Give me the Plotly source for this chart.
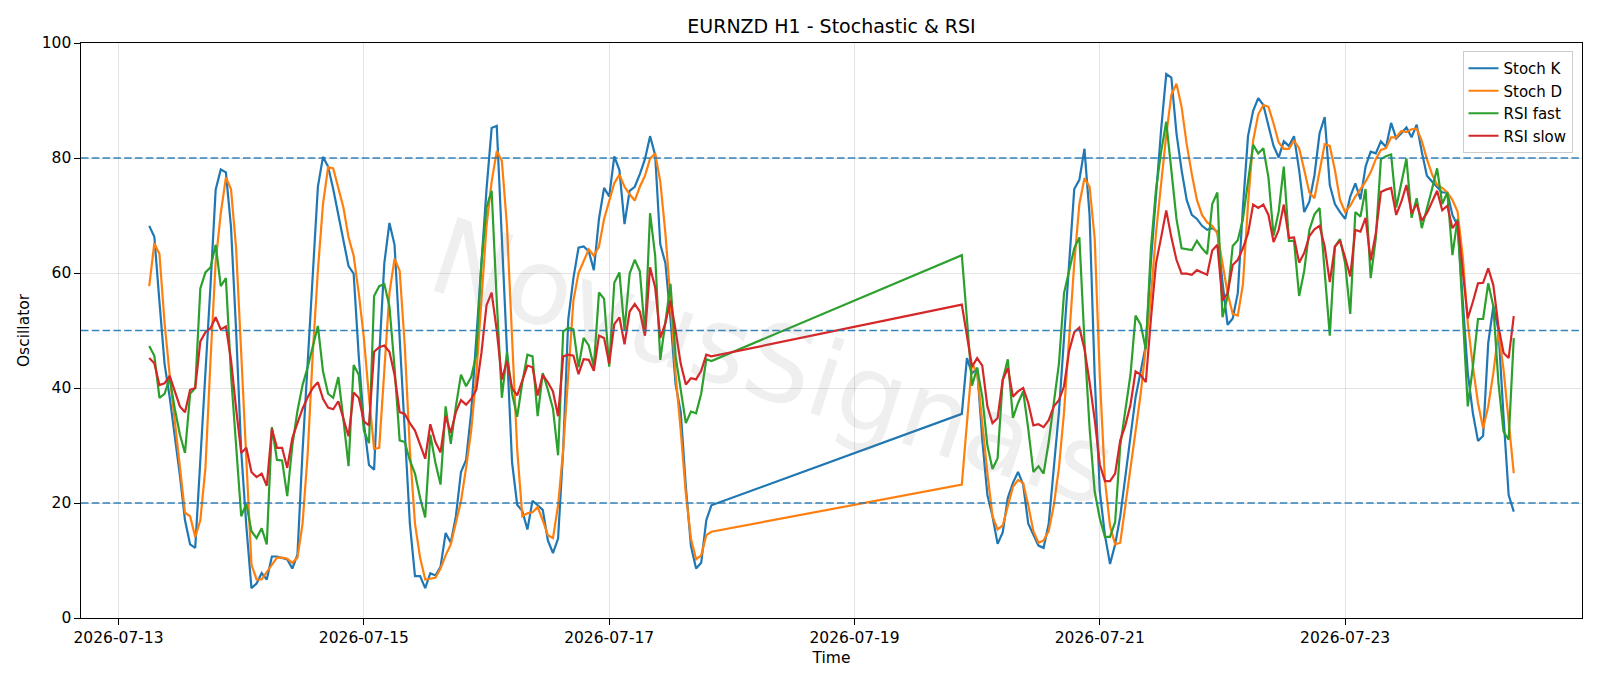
import pandas as pd
import plotly.graph_objects as go

# ---------------- data (hourly, weekend gap between segments) ----------------
seg1_start = "2026-07-13 06:00"
seg2_start = "2026-07-19 21:00"

stoch_k_1 = [68.2, 66.3, 55, 44.2, 38.4, 31.9, 24.8, 17, 12.8, 12.2,
             27, 43, 58, 74.5, 78, 77.5, 68, 50, 29, 16,
             5.2, 6, 7.8, 6.7, 10.7, 10.7, 10.4, 10.2, 8.6, 11,
             29, 44, 59, 75, 80.2, 78.5, 74.6, 70.1, 66.2, 61.2,
             59.9, 45.5, 33.9, 26.6, 25.8, 45.5, 61.7, 68.7, 64.9, 48.7,
             32.6, 16.4, 7.3, 7.3, 5.2, 7.8, 7.4, 8.9, 14.8, 13.1,
             17.7, 25.4, 27.5, 35.8, 48.7, 61.7, 74.6, 85.2, 85.6, 66,
             45, 27, 19.7, 18.6, 15.4, 20.4, 19.6, 18.8, 13.5, 11.3,
             13.8, 29.3, 52, 59.1, 64.4, 64.6, 63.8, 60.5, 69.4, 74.8,
             73.3, 80.3, 77.9, 68.5, 74.3, 75, 77.2, 79.8, 83.8, 80.5,
             65, 61.7, 52, 40.6, 35.8, 22.8, 12.5, 8.6, 9.6, 17,
             19.6]
stoch_d_1 = [57.7, 65.2, 63.3, 51.3, 42.3, 33.9, 26.1, 18.3, 17.7, 14.1,
             17, 26.1, 45, 62, 70.4, 76.6, 74.6, 64.3, 46, 27,
             9.3, 6.7, 6.7, 8, 9.3, 10.5, 10.5, 10.3, 9.6, 10.5,
             16.4, 28.5, 46, 60.4, 72, 78.4, 78.2, 75, 71.4, 66.2,
             63, 56.5, 48.7, 38.4, 29.4, 29.6, 42.3, 56.5, 62.5, 60.4,
             47.4, 29.3, 16.4, 10.5, 6.7, 6.8, 7, 8.6, 10.9, 12.8,
             16.4, 20.3, 26.1, 32.6, 42.3, 55.2, 68.2, 75.9, 81.2, 79.5,
             68.2, 48.7, 29.3, 17.7, 18.2, 18.4, 19.3, 17, 14.4, 13.9,
             19.6, 29.3, 42.3, 55.2, 60, 62, 64.1, 63, 64.6, 69.4,
             72.7, 75.6, 77.1, 75, 73.7, 72.6, 75, 76.9, 79.9, 80.8,
             75.9, 66.9, 55.2, 42.3, 32.6, 21.6, 13.8, 10.2, 10.9, 14.4,
             15]
rsi_fast_1 = [47.3, 45.6, 38.3, 39, 41.7, 36.4, 31.9, 28.7, 39, 40,
              57.3, 60.1, 61, 64.9, 57.7, 59.1, 42.3, 29.3, 17.7, 19.9,
              15.1, 13.9, 15.6, 12.8, 33.2, 27.5, 27.4, 21.2, 30, 36,
              40.5, 43.6, 47.4, 50.8, 42.9, 39, 38.3, 41.9, 34.5, 26.4,
              44, 42.3, 32.6, 30.4, 56, 57.7, 58.1, 54.2, 43.6, 30.9,
              30.6, 27.4, 25.1, 20.9, 17.5, 31.9, 27, 23.2, 36.8, 30.3,
              36.8, 42.3, 40.3, 41.9, 45.8, 61.7, 71.4, 74.3, 55.2, 38.3,
              46.3, 39, 35, 41, 45.8, 45.5, 35.1, 42.6, 39.7, 36.4,
              28.3, 49.8, 50.5, 50.2, 43.6, 48.7, 47.4, 43.7, 56.6, 55.5,
              43.7, 58.3, 60.1, 50, 59.9, 62.3, 60.3, 49.4, 70.4, 63,
              44.9, 51.3, 58.1, 45.5, 40, 33.9, 35.9, 35.6, 39, 45,
              44.7]
rsi_slow_1 = [45.2, 44.3, 40.5, 40.8, 42.1, 39.4, 36.8, 35.8, 39.7, 40,
              48.1, 49.7, 50.4, 52.3, 50.2, 50.7, 44.9, 36.4, 28.7, 29.6,
              25.4, 24.5, 25.1, 23, 32.9, 29.6, 29.6, 26.1, 31.3, 33.9,
              36.4, 38.4, 40, 41, 38.1, 36.6, 36.3, 37.7, 34.5, 31.6,
              39.2, 38.3, 34.2, 33.5, 46.3, 47.1, 47.4, 46.3, 42.3, 35.8,
              35.5, 33.9, 32.6, 30, 27.7, 33.7, 30.6, 28.8, 35.1, 32.2,
              35.8, 37.9, 37.1, 38.1, 39.7, 46.1, 54.4, 56.6, 50, 41.5,
              44.7, 40, 38.7, 41.3, 43.9, 43.6, 38.7, 42.3, 41, 39.4,
              35.1, 45.5, 45.8, 45.6, 42.4, 45, 44.9, 43, 49.1, 48.7,
              44.2, 51.1, 52.3, 47.6, 53.3, 54.6, 53.3, 49.1, 61, 57.5,
              48.7, 51.3, 55.2, 50, 44.2, 40.6, 41.7, 41.5, 43, 45.8,
              45.5]

stoch_k_2 = [35.5, 45.2, 42.5, 43.5, 31, 21.4, 17.7, 12.9, 14.9, 20.9,
             23.5, 25.4, 23.2, 16.4, 14.4, 12.6, 12.2, 16.4, 26.1, 35.8,
             48.7, 61.7, 74.6, 76.2, 81.6, 70, 42, 22, 14.4, 9.4,
             12.8, 17.7, 24.8, 31.9, 38.4, 42.9, 47.4, 62, 74, 85,
             94.6, 94, 84.3, 77.9, 72.7, 70.1, 69.4, 68.2, 67.5, 67.8,
             67.2, 58.4, 51, 52.1, 56.5, 71.4, 83.8, 88.2, 90.4, 89.2,
             85.6, 82.1, 80.1, 82.9, 82.1, 83.8, 77.9, 70.6, 72.4, 77,
             84.3, 87.1, 75.3, 72, 70.6, 69.4, 73.3, 75.6, 72.8, 78.5,
             81.1, 80.8, 82.9, 81.9, 86.1, 83.4, 84.3, 85.3, 83.6, 85.8,
             81.1, 76.9, 75.9, 75, 74, 74, 70.1, 68.2, 55, 42.6,
             35.6, 30.8, 31.7, 47.8, 54.2, 50.1, 35, 21.4, 18.5]
stoch_d_2 = [23.2, 33.9, 44.3, 42.6, 33.3, 25.2, 17.7, 15.4, 16.1, 19.4,
             22.8, 24, 23.5, 19.6, 15.1, 13.1, 13.5, 15.1, 19.6, 26.1,
             35.8, 48.7, 61.7, 72, 76.5, 75, 66, 42, 24, 16,
             12.8, 13.1, 19.6, 26.1, 32.6, 39, 47, 56, 67, 76,
             84, 91, 92.9, 88.9, 82.4, 77.2, 72.7, 70.1, 68.8, 68.2,
             66.9, 61.7, 56.5, 52.9, 52.6, 58, 72, 83, 87.6, 89.2,
             88.9, 86, 82.7, 81.6, 81.6, 83, 81.7, 77.9, 74, 73,
             77.9, 82.4, 82.1, 77.9, 72.7, 70.6, 71.7, 73.3, 74.6, 75.9,
             77.5, 79.8, 81.4, 81.7, 83.6, 83.6, 84.7, 84.5, 85, 85.1,
             83, 79.8, 77.2, 75.3, 74.8, 74, 72.7, 70.7, 63, 51.3,
             43.7, 37.4, 33, 36.8, 42.6, 49.8, 43.2, 34.5, 25.2]
rsi_fast_2 = [63.1, 52, 40.4, 43.5, 38.5, 30, 25.9, 27.8, 41.4, 45,
              34.8, 37.4, 39.4, 32.9, 25.4, 26.4, 25.1, 30.6, 37.1, 44.2,
              56.5, 60.4, 64.3, 66.2, 48, 33, 22, 17.3, 14.1, 14.1,
              16.7, 30, 35.8, 42.3, 52.6, 51, 46.8, 64.3, 74.6, 81.1,
              86.3, 77.9, 69.4, 64.3, 64.2, 64, 65.6, 64.3, 63.3, 72,
              74, 52.3, 55.9, 64.7, 65.7, 69.4, 75.9, 82.3, 80.8, 81.7,
              76.6, 66.5, 70.7, 78.5, 65.6, 65.6, 56, 60.4, 67.5, 70.2,
              71.3, 60, 49.1, 64.6, 65.9, 61.7, 52.9, 70.6, 69.8, 74.6,
              59.1, 66, 79.8, 80.3, 80.6, 71.4, 75.6, 79.9, 69.6, 73,
              67.8, 71.1, 74.6, 78.2, 72, 74, 63.1, 69.4, 53, 36.8,
              43.7, 52, 52, 58.2, 54.2, 40.9, 32.4, 31, 48.7]
rsi_slow_2 = [54.5, 49, 43.7, 45.2, 43.9, 36.8, 33.9, 34.8, 41.4, 43.5,
              38.5, 39.4, 40, 37.4, 33.5, 33.7, 33.2, 34.4, 36.8, 37.9,
              40.3, 46.5, 49.7, 50.5, 46.8, 41, 34.5, 26.7, 23.8, 23.8,
              25.1, 30.9, 33.5, 37.1, 42.9, 42.3, 41, 52, 61.7, 66.2,
              70.9, 66.2, 62.3, 59.9, 59.9, 59.7, 60.5, 60.1, 59.7, 63.9,
              64.9, 55.2, 56.5, 61.4, 62.3, 64.3, 66.9, 71.9, 71.3, 71.9,
              70.1, 65.4, 67.5, 71.9, 66.1, 66.2, 61.8, 63.5, 66.4, 67.6,
              68.2, 64.6, 58.4, 64.6, 65.6, 62.7, 59.4, 67.5, 67.2, 69.6,
              62.2, 66.9, 74.1, 74.5, 74.8, 70.1, 72.4, 75.3, 70.4, 72,
              69.1, 70.4, 72.4, 74.3, 70.9, 71.7, 67.8, 69, 60.5, 52.1,
              55, 58.2, 58.3, 60.8, 57.9, 50.7, 46.1, 45.2, 52.5]

levels = [20, 50, 80]
tick_dates = ["2026-07-13", "2026-07-15", "2026-07-17", "2026-07-19",
              "2026-07-21", "2026-07-23"]
y_ticks = [0, 20, 40, 60, 80, 100]
x_range = ["2026-07-12 16:39", "2026-07-24 22:21"]

series = [
    ("Stoch K", stoch_k_1 + stoch_k_2, "#1f77b4"),
    ("Stoch D", stoch_d_1 + stoch_d_2, "#ff7f0e"),
    ("RSI fast", rsi_fast_1 + rsi_fast_2, "#2ca02c"),
    ("RSI slow", rsi_slow_1 + rsi_slow_2, "#d62728"),
]

t1 = pd.date_range(seg1_start, periods=len(stoch_k_1), freq="h")
t2 = pd.date_range(seg2_start, periods=len(stoch_k_2), freq="h")
times = list(t1) + list(t2)

FONT = "DejaVu Sans"
fig = go.Figure()
for name, vals, color in series:
    fig.add_trace(go.Scatter(x=times, y=vals, mode="lines", name=name,
                             line=dict(color=color, width=2.2)))

for lv in levels:
    fig.add_shape(type="line", xref="paper", x0=0, x1=1, yref="y", y0=lv, y1=lv,
                  line=dict(color="rgba(31,119,180,0.9)", width=1.5, dash="7.5px,3.3px"))

# watermark
fig.add_annotation(text="NovusSignals", xref="paper", yref="paper",
                   x=(773 - 81) / 1501, y=(618 - 362) / 575,
                   showarrow=False, textangle=18,
                   font=dict(family=FONT, size=106, color="rgba(120,120,120,0.12)"))

fig.update_layout(
    width=1600, height=686,
    margin=dict(l=81, r=18, t=43, b=68),
    paper_bgcolor="white", plot_bgcolor="white",
    font=dict(family=FONT, size=15.5, color="black"),
    title=dict(text="EURNZD H1 - Stochastic & RSI", x=0.5, xref="paper",
               y=1 - 26.5 / 686, yref="container", yanchor="middle",
               font=dict(family=FONT, size=19, color="black")),
    legend=dict(x=1 - 9.5 / 1501, xanchor="right", y=1 - 8 / 575, yanchor="top",
                bgcolor="rgba(255,255,255,0.85)", bordercolor="#cccccc", borderwidth=1,
                font=dict(family=FONT, size=15), tracegroupgap=0),
    showlegend=True,
)
fig.update_xaxes(range=x_range, tickvals=tick_dates, ticktext=tick_dates,
                 showgrid=True, gridcolor="rgba(176,176,176,0.35)", gridwidth=1,
                 showline=True, linecolor="black", linewidth=1.2, mirror=True,
                 ticks="outside", ticklen=5.5, tickwidth=1.2, tickcolor="black",
                 zeroline=False, tickfont=dict(family=FONT, size=15.5),
                 title=dict(text="Time", standoff=5, font=dict(family=FONT, size=15.5)))
fig.update_yaxes(range=[0, 100], tickvals=y_ticks,
                 showgrid=True, gridcolor="rgba(176,176,176,0.35)", gridwidth=1,
                 showline=True, linecolor="black", linewidth=1.2, mirror=True,
                 ticks="outside", ticklen=5.5, tickwidth=1.2, tickcolor="black",
                 zeroline=False, tickfont=dict(family=FONT, size=15.5),
                 title=dict(text="Oscillator", standoff=8, font=dict(family=FONT, size=15.5)))

fig.write_html("out.html")
